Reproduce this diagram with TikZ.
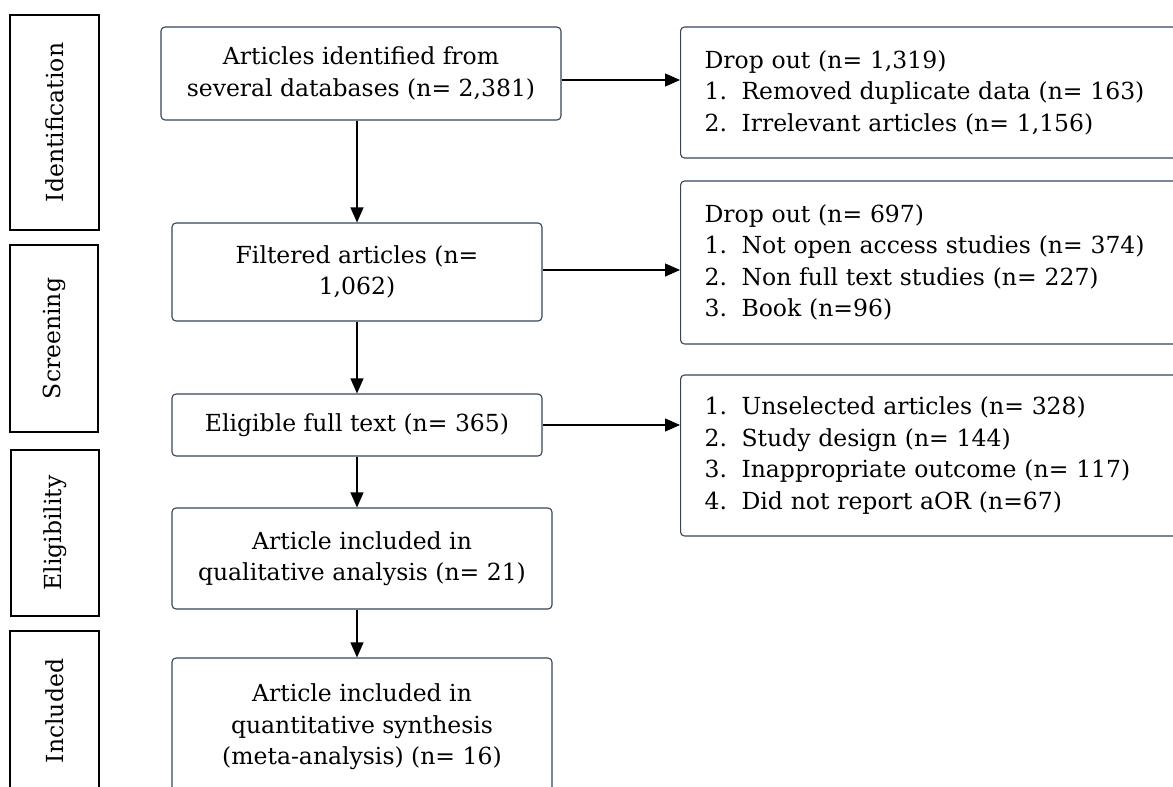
\documentclass[tikz,border=0pt]{standalone}
\usepackage{fontspec}
\setmainfont{DejaVu Serif}
\usepackage{tikz}
\usetikzlibrary{arrows.meta,positioning,calc}
\definecolor{rand}{RGB}{52,68,90}
\newcommand{\nr}[1]{\makebox[37pt][l]{#1}}
\newcommand{\txt}{\fontsize{23.5}{31.5}\selectfont}

\begin{document}
\begin{tikzpicture}[x=1pt,y=-1pt,
  stage/.style={draw=black,line width=1.9pt,rotate=90,inner sep=0pt,font=\txt},
  flow/.style={draw=rand,line width=1.1pt,rounded corners=4pt,align=center,inner sep=0pt,font=\txt},
  drop/.style={draw=rand,line width=1.1pt,rounded corners=4pt,align=left,anchor=west,inner xsep=24pt,inner ysep=0pt,text width=480pt,font=\txt},
  arr/.style={-{Triangle[length=15pt,width=13pt]},line width=1.1pt}]
  \useasboundingbox (0,0) rectangle (1173,787);
  \clip (0,0) rectangle (1173,787);

  % stages
  \node[stage,minimum width=215pt,minimum height=89pt] (ident) at (54.5,122.5) {Identification};
  \node[stage,minimum width=187pt,minimum height=88pt] (screen) at (54,338.5) {Screening};
  \node[stage,minimum width=166pt,minimum height=88pt] (elig) at (55,533) {Eligibility};
  \node[stage,minimum width=160pt,minimum height=89pt] (incl) at (54.5,711) {Included};

  % flow
  \node[flow,minimum width=400pt,minimum height=93pt] (a1) at (361,73.5) {Articles identified from\\several databases (n= 2,381)};
  \node[flow,minimum width=370pt,minimum height=98pt] (a2) at (357,272) {Filtered articles (n=\\1,062)};
  \node[flow,minimum width=370pt,minimum height=62pt] (a3) at (357,425) {Eligible full text (n= 365)};
  \node[flow,minimum width=380pt,minimum height=101pt] (a4) at (362,558.5) {Article included in\\qualitative analysis (n= 21)};
  \node[flow,minimum width=380pt,minimum height=138pt] (a5) at (362,727) {Article included in\\quantitative synthesis\\(meta-analysis) (n= 16)};

  % drop out
  \node[drop,minimum height=131pt] (b1) at (680,92.5) {Drop out (n= 1,319)\\
    \nr{1.}Removed duplicate data (n= 163)\\
    \nr{2.}Irrelevant articles (n= 1,156)};
  \node[drop,minimum height=163pt] (b2) at (680,262.5) {Drop out (n= 697)\\
    \nr{1.}Not open access studies (n= 374)\\
    \nr{2.}Non full text studies (n= 227)\\
    \nr{3.}Book (n=96)};
  \node[drop,minimum height=161pt] (b3) at (680,455.5) {\nr{1.}Unselected articles (n= 328)\\
    \nr{2.}Study design (n= 144)\\
    \nr{3.}Inappropriate outcome (n= 117)\\
    \nr{4.}Did not report aOR (n=67)};

  % arrows
  \draw[arr] (a1.south -| a2) -- (a2.north);
  \draw[arr] (a2.south) -- (a3.north);
  \draw[arr] (a3.south) -- (a3.south |- a4.north);
  \draw[arr] (a4.south -| a3) -- (a3 |- a5.north);
  \draw[arr] ([yshift=-6.5pt]a1.east) -- ([yshift=-6.5pt]a1.east -| b1.west);
  \draw[arr] ([yshift=2pt]a2.east) -- ([yshift=2pt]a2.east -| b2.west);
  \draw[arr] (a3.east) -- (a3.east -| b3.west);
\end{tikzpicture}
\end{document}
